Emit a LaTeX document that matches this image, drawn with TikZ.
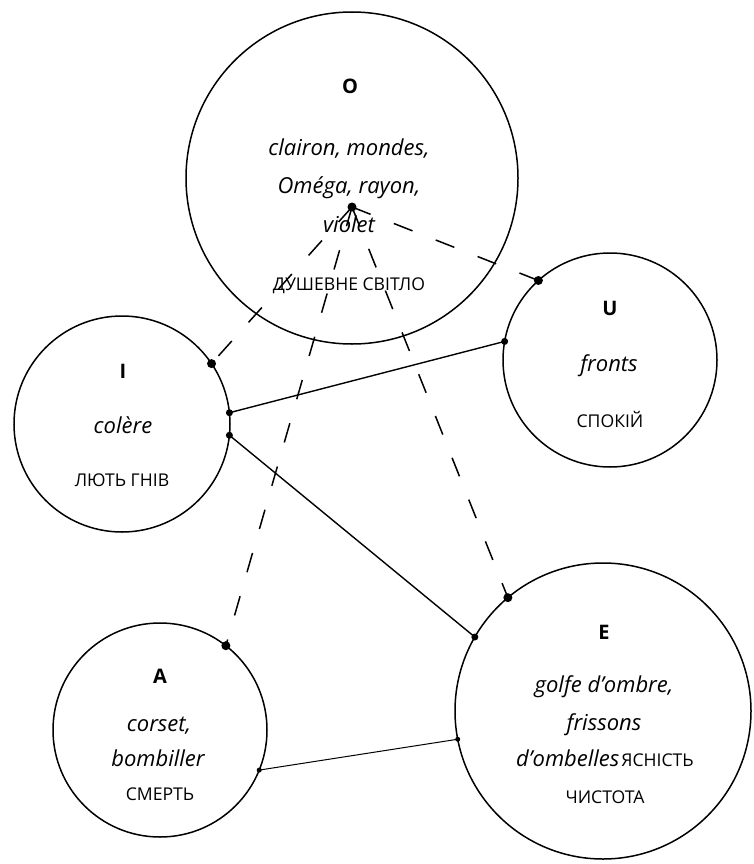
\documentclass[tikz,border=0pt]{standalone}
\usepackage{fontspec}
\setmainfont{Open Sans}
\begin{document}
\begin{tikzpicture}[x=1pt,y=-1pt,
  ring/.style={draw, circle, line width=1.5pt, inner sep=0pt, outer sep=0pt},
  lbl/.style={font=\fontsize{20}{20}\selectfont\bfseries, inner sep=0pt, anchor=base},
  fr/.style={font=\fontsize{22}{22}\selectfont\itshape, inner sep=0pt, anchor=base},
  uk/.style={font=\fontsize{17.6}{17.6}\selectfont, inner sep=0pt, anchor=base},
  dashlink/.style={line width=1.5pt, dash pattern=on 20pt off 25pt},
  solidlink/.style={line width=1.4pt},
  thinlink/.style={line width=1pt},
]
\useasboundingbox (0,0) rectangle (753,864);
% circles
\node[ring, minimum size=332pt] (O) at (352,178) {};
\node[ring, minimum size=216pt] (I) at (122,424) {};
\node[ring, minimum size=214pt] (U) at (610,360) {};
\node[ring, minimum size=214pt] (A) at (160,730) {};
\node[ring, minimum size=296pt] (E) at (603,711) {};
% texts O
\node[lbl] (Ol) at (350,94) {O};
\node[fr] (O1) at (349,155) {clairon, mondes,};
\node[fr] (O2) at (349,193) {Oméga, rayon,};
\node[fr] (O3) at (349,232) {violet};
\node[uk] (O4) at (349,290) {ДУШЕВНЕ СВІТЛО};
% texts I
\node[lbl] (Il) at (123,378) {I};
\node[fr] (I1) at (123,433) {colère};
\node[uk] (I2) at (122,486) {ЛЮТЬ ГНІВ};
% texts U
\node[lbl] (Ul) at (610,315) {U};
\node[fr] (U1) at (609,371) {fronts};
\node[uk] (U2) at (610,427) {СПОКІЙ};
% texts A
\node[lbl] (Al) at (160,683) {A};
\node[fr] (A1) at (159,731) {corset,};
\node[fr] (A2) at (158,766) {bombiller};
\node[uk] (A3) at (160,800) {СМЕРТЬ};
% texts E
\node[lbl] (El) at (604,639) {E};
\node[fr] (E1) at (604,692) {golfe d'ombre,};
\node[fr] (E2) at (604,730) {frissons};
\node[inner sep=0pt, anchor=base] (E3) at (605,766) {{\fontsize{22}{22}\selectfont\itshape d'ombelles}\kern2pt{\fontsize{17.6}{17.6}\selectfont ЯСНІСТЬ}};
\node[uk] (E4) at (605,803) {ЧИСТОТА};
% hub in O
\coordinate (hub) at (352,207);
% dashed links
\draw[dashlink] (hub) -- (I.34.6);
\draw[dashlink] (hub) -- (U.132.8);
\draw[dashlink] (hub) -- (A.52.7);
\draw[dashlink] (hub) -- (E.130.9);
\fill (hub) circle (4.5pt);
\fill (I.34.6) circle (4.5pt);
\fill (U.132.8) circle (4.5pt);
\fill (A.52.7) circle (4.5pt);
\fill (E.130.9) circle (4.5pt);
% solid links
\draw[solidlink] (I.6.3) -- (U.170.5);
\draw[solidlink] (I.-6) -- (E.150.4);
\draw[thinlink] (A.-22.9) -- (E.-169.5);
\fill (I.6.3) circle (3.5pt);
\fill (U.170.5) circle (3.5pt);
\fill (I.-6) circle (3.5pt);
\fill (E.150.4) circle (3.5pt);
\fill (A.-22.9) circle (2.5pt);
\fill (E.-169.5) circle (2.5pt);
\end{tikzpicture}
\end{document}
